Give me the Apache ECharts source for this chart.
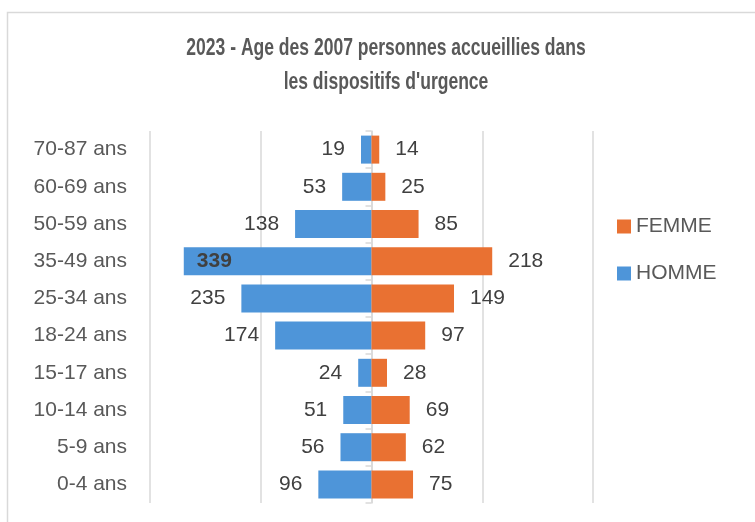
<html>
<head>
<meta charset="utf-8">
<script type="text/javascript" src="https://cdn.jsdelivr.net/npm/echarts@6/dist/echarts.min.js"></script>
<style>
  html, body { margin: 0; padding: 0; background: #ffffff; }
  #container { width: 755px; height: 522px; }
</style>
</head>
<body>
<div id="container"></div>
<script type="text/javascript">
    // age groups, bottom to top
    var categories = ['0-4 ans', '5-9 ans', '10-14 ans', '15-17 ans', '18-24 ans',
                      '25-34 ans', '35-49 ans', '50-59 ans', '60-69 ans', '70-87 ans'];
    var homme = [96, 56, 51, 24, 174, 235, 339, 138, 53, 19];
    var femme = [75, 62, 69, 28, 97, 149, 218, 85, 25, 14];
    var titleLines = ["2023 - Age des 2007 personnes accueillies dans", "les dispositifs d'urgence"];

    var font = "'Liberation Sans', Arial, sans-serif";

    // the biggest homme bar gets its label inside, bold
    var maxH = Math.max.apply(null, homme);
    var hommeData = homme.map(function (v) {
        var d = { value: -v };
        if (v === maxH) {
            d.label = { position: 'insideLeft', distance: 13, fontWeight: 'bold' };
        }
        return d;
    });

    // title drawn as text squeezed horizontally (narrow font look)
    var titleGraphics = titleLines.map(function (t, i) {
        return {
            type: 'text',
            x: 386,
            y: 48 + i * 34,
            scaleX: 0.73,
            style: {
                text: t,
                fontFamily: font,
                fontSize: 24,
                fontWeight: 'bold',
                fill: '#595959',
                textAlign: 'center',
                textVerticalAlign: 'middle'
            }
        };
    });

    var myChart = echarts.init(document.getElementById('container'), null, { renderer: 'canvas' });

    var option = {
        backgroundColor: '#ffffff',
        animation: false,
        graphic: [{
            type: 'rect',
            shape: { x: 7.5, y: 12.5, width: 800, height: 600 },
            style: { fill: 'none', stroke: '#d9d9d9', lineWidth: 1.5 },
            z: -1
        }].concat(titleGraphics),
        legend: {
            data: ['FEMME', 'HOMME'],
            orient: 'vertical',
            left: 612,
            top: 211,
            itemWidth: 14,
            itemHeight: 14,
            itemGap: 26,
            icon: 'rect',
            textStyle: { fontFamily: font, fontSize: 21, color: '#595959', lineHeight: 14, padding: [0, 0, 0, 0] }
        },
        grid: { left: 150, right: 162, top: 131, bottom: 19, containLabel: false },
        xAxis: {
            type: 'value',
            min: -400,
            max: 400,
            interval: 200,
            axisLabel: { show: false },
            axisLine: { show: false },
            axisTick: { show: false },
            splitLine: { show: true, lineStyle: { color: '#d9d9d9', width: 1.5 } }
        },
        yAxis: {
            type: 'category',
            data: categories,
            axisLine: { show: true, lineStyle: { color: '#d9d9d9', width: 1.5 } },
            axisTick: { show: true, length: 6, lineStyle: { color: '#d9d9d9', width: 1.5 } },
            axisLabel: { fontFamily: font, fontSize: 21, color: '#595959', margin: 23 }
        },
        series: [
            {
                name: 'HOMME',
                type: 'bar',
                data: hommeData,
                barWidth: 28,
                barGap: '-100%',
                itemStyle: { color: '#4e95d9' },
                label: {
                    show: true,
                    position: 'left',
                    distance: 16,
                    fontFamily: font,
                    fontSize: 21,
                    color: '#404040',
                    formatter: function (p) { return Math.abs(p.value); }
                }
            },
            {
                name: 'FEMME',
                type: 'bar',
                data: femme,
                barWidth: 28,
                itemStyle: { color: '#e97132' },
                label: {
                    show: true,
                    position: 'right',
                    distance: 16,
                    fontFamily: font,
                    fontSize: 21,
                    color: '#404040'
                }
            }
        ]
    };

    myChart.setOption(option);
</script>
</body>
</html>
